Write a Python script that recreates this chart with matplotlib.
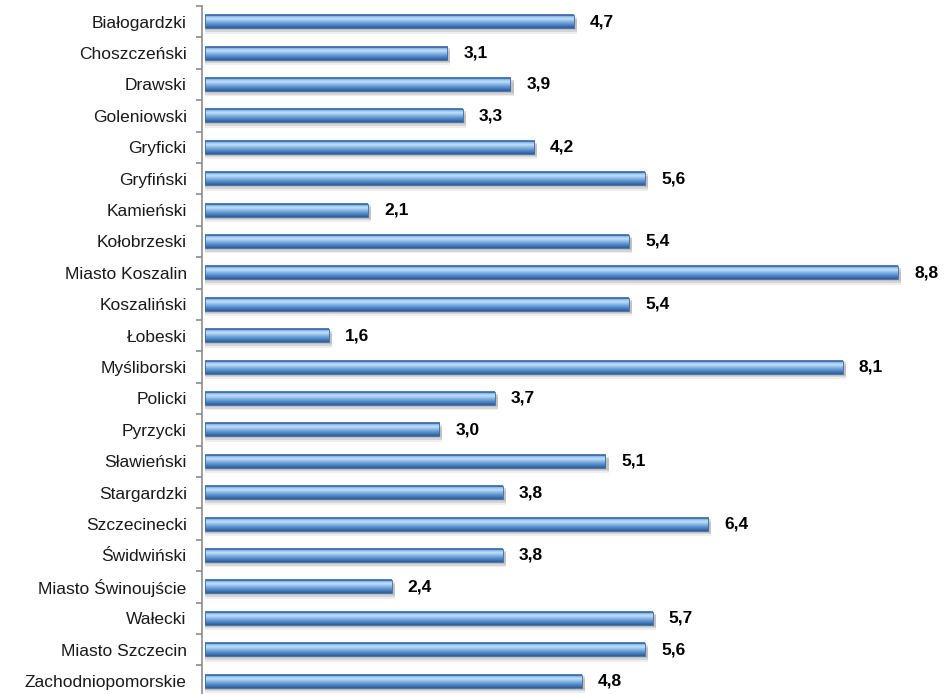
import matplotlib
matplotlib.use("Agg")
import matplotlib.pyplot as plt
import numpy as np
from matplotlib.colors import LinearSegmentedColormap

plt.rcParams["font.family"] = ["Liberation Sans", "DejaVu Sans"]

# data
districts = [
    "Białogardzki", "Choszczeński", "Drawski", "Goleniowski", "Gryficki",
    "Gryfiński", "Kamieński", "Kołobrzeski", "Miasto Koszalin", "Koszaliński",
    "Łobeski", "Myśliborski", "Policki", "Pyrzycki", "Sławieński",
    "Stargardzki", "Szczecinecki", "Świdwiński", "Miasto Świnoujście",
    "Wałecki", "Miasto Szczecin", "Zachodniopomorskie",
]
values = [4.7, 3.1, 3.9, 3.3, 4.2, 5.6, 2.1, 5.4, 8.8, 5.4, 1.6, 8.1,
          3.7, 3.0, 5.1, 3.8, 6.4, 3.8, 2.4, 5.7, 5.6, 4.8]
value_labels = [f"{v:.1f}".replace(".", ",") for v in values]

# vertical colour profile of the cylinder-like bars (top -> bottom)
bar_cmap = LinearSegmentedColormap.from_list(
    "bar3d",
    [(0.0, "#4073b0"), (0.15, "#86b6e6"), (0.32, "#c4e0f8"),
     (0.5, "#8fbde9"), (0.75, "#5389cc"), (1.0, "#2d5d98")],
)

W, H = 945, 694
fig = plt.figure(figsize=(W / 100, H / 100), dpi=100)
ax = fig.add_axes([202 / W, 0, (W - 202) / W, 1 - 6 / H])

ypos = np.arange(len(districts))
h = 0.42
grad = np.linspace(0, 1, 64).reshape(-1, 1)

# soft shadow under each bar
for off, a in [(0.06, 0.3), (0.11, 0.25), (0.17, 0.15)]:
    ax.barh(ypos + off, values, height=h, left=0.04, color="#8f8f8f",
            alpha=a, lw=0, zorder=1)
for y, v in zip(ypos, values):
    ax.imshow(grad, cmap=bar_cmap, aspect="auto", interpolation="bilinear",
              extent=[0.04, v, y + h / 2, y - h / 2], zorder=2)
ax.barh(ypos, np.array(values) - 0.04, left=0.04, height=h, fill=False,
        edgecolor="#3a69a2", lw=0.6, zorder=3)

for y, v, lab in zip(ypos, values, value_labels):
    ax.annotate(lab, (v, y), xytext=(11.5, 0), textcoords="offset points",
                ha="left", va="center", fontsize=12.5, fontweight="bold",
                color="black")

ax.set_yticks(ypos)
ax.set_yticklabels(districts, fontsize=12.5, color="#1a1a1a")
ax.tick_params(axis="y", which="major", length=0, pad=11)
ax.set_yticks(np.arange(-0.5, len(districts), 1.0), minor=True)
ax.tick_params(axis="y", which="minor", length=4, width=1.2,
               color="#8c8c8c", direction="out")
ax.set_xticks([])

# limits last: set_yticks would otherwise widen the view
ax.set_xlim(0, (W - 202) / 79.1)
ax.set_ylim((H - 6) / 31.4 - 0.5, -0.5)

for side in ["top", "right", "bottom"]:
    ax.spines[side].set_visible(False)
ax.spines["left"].set_color("#8c8c8c")
ax.spines["left"].set_linewidth(1.2)

fig.savefig("out.png", dpi=100)
